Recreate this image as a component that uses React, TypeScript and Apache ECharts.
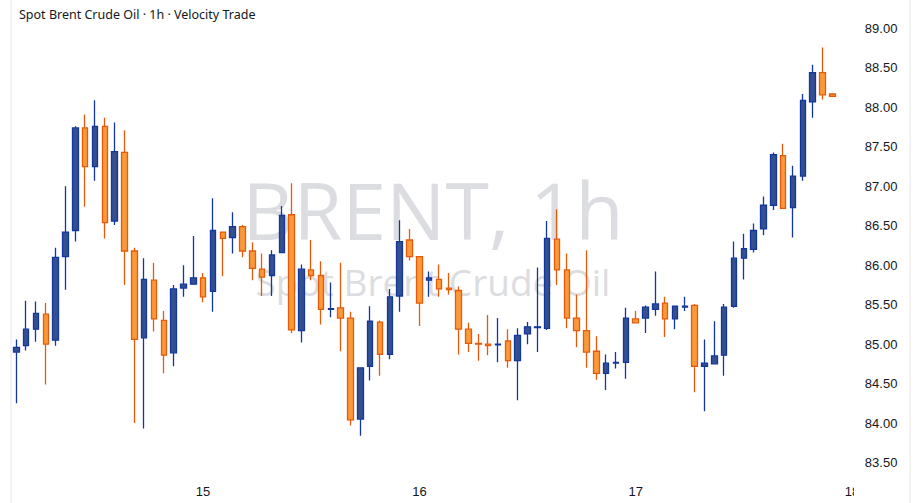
import React, { useEffect, useRef } from "react";
import * as echarts from "echarts";

// OHLC values, one per hourly candle (22 candles per trading day)
const opens = [
  84.9, 84.98, 85.19, 85.38, 85.05, 86.11, 86.44, 87.74, 87.25, 87.76,
  86.56, 87.43, 86.18, 85.08, 85.81, 85.3, 84.89, 85.71, 85.76, 85.84,
  85.67, 86.42, 86.35, 86.49, 86.18, 85.95, 85.87, 86.16, 86.64, 85.17,
  85.94, 85.87, 85.44, 85.46, 85.33, 84.05, 84.72, 85.28, 84.87, 85.61,
  86.32, 86.11, 85.81, 85.82, 85.71, 85.68, 85.19, 85.01, 85.0, 84.99,
  85.04, 84.79, 85.13, 85.21, 85.2, 86.33, 85.94, 85.33, 85.17, 84.91,
  84.63, 84.76, 84.77, 85.32, 85.33, 85.44, 85.52, 85.32, 85.47, 85.49,
  84.72, 84.75, 84.86, 85.48, 86.09, 86.2, 86.46, 86.76, 87.39, 86.73,
  87.13, 88.07, 88.44, 88.17,
];
const highs = [
  85.06, 85.55, 85.54, 85.52, 86.22, 87.0, 87.76, 87.91, 88.09, 87.87,
  87.81, 87.71, 86.22, 86.09, 86.03, 85.42, 85.75, 86.0, 86.37, 85.9,
  86.85, 86.42, 86.67, 86.51, 86.29, 86.15, 86.19, 86.75, 87.04, 86.01,
  86.32, 86.05, 85.78, 86.03, 85.41, 84.7, 85.48, 85.3, 85.7, 86.57,
  86.46, 86.11, 85.92, 86.01, 85.9, 85.73, 85.27, 85.13, 85.37, 85.33,
  85.19, 85.2, 85.28, 85.97, 86.56, 86.71, 86.15, 85.63, 86.19, 85.1,
  84.87, 84.9, 85.46, 85.42, 85.49, 85.92, 85.6, 85.49, 85.6, 85.51,
  85.06, 85.29, 85.51, 86.3, 86.4, 86.53, 86.87, 87.43, 87.54, 87.26,
  88.17, 88.54, 88.76, 88.17,
];
const lows = [
  84.25, 84.92, 85.03, 84.49, 84.98, 85.69, 86.3, 86.74, 87.07, 86.34,
  86.51, 85.75, 84.0, 83.93, 85.16, 84.63, 84.72, 85.6, 85.76, 85.53,
  85.41, 85.86, 86.15, 86.1, 85.81, 85.61, 85.61, 86.16, 85.14, 85.02,
  85.81, 85.25, 85.34, 84.91, 83.97, 83.84, 84.54, 84.6, 84.81, 85.41,
  86.06, 85.23, 85.6, 85.6, 85.63, 84.87, 84.9, 84.79, 84.86, 84.77,
  84.7, 84.29, 85.0, 84.9, 85.18, 85.75, 85.2, 84.96, 84.7, 84.55,
  84.42, 84.69, 84.56, 85.27, 85.14, 85.36, 85.09, 85.19, 85.42, 84.39,
  84.15, 84.75, 84.6, 85.46, 85.82, 86.16, 86.38, 86.7, 86.72, 86.35,
  87.07, 87.87, 88.1, 88.14,
];
const closes = [
  84.96, 85.19, 85.39, 85.0, 86.1, 86.42, 87.74, 87.25, 87.76, 86.54,
  87.44, 86.18, 85.06, 85.82, 85.32, 84.86, 85.7, 85.76, 85.84, 85.6,
  86.44, 86.34, 86.49, 86.18, 85.96, 85.85, 86.13, 86.63, 85.18, 85.95,
  85.87, 85.44, 85.45, 85.33, 84.04, 84.7, 85.29, 84.87, 85.6, 86.3,
  86.11, 85.52, 85.84, 85.7, 85.69, 85.19, 85.01, 85.0, 84.98, 85.0,
  84.79, 85.11, 85.22, 85.22, 86.34, 85.94, 85.33, 85.17, 84.9, 84.63,
  84.76, 84.77, 85.33, 85.27, 85.47, 85.51, 85.32, 85.48, 85.48, 84.72,
  84.76, 84.85, 85.47, 86.09, 86.21, 86.44, 86.76, 87.4, 86.72, 87.13,
  88.09, 88.44, 88.16, 88.14,
];

// Day tick labels and where they fall (candle index of each new day)
const dayLabels = ["15", "16", "17", "18"];
const dayStartIndex = [19, 41, 63, 85];
const totalSlots = 86;

const yMin = 83.5;
const yMax = 89;
const yStep = 0.5;

const titleText = "Spot Brent Crude Oil · 1h · Velocity Trade";
const watermarkMain = "BRENT, 1h";
const watermarkSub = "Spot Brent Crude Oil";

export default function App() {
  const ref = useRef<HTMLDivElement>(null);

  useEffect(() => {
    if (!ref.current) return;
    const chart = echarts.init(ref.current, undefined, { renderer: "svg" });

    const categories: string[] = [];
    for (let i = 0; i < totalSlots; i++) {
      const k = dayStartIndex.indexOf(i);
      categories.push(k >= 0 ? dayLabels[k] : "");
    }
    const data = opens.map((o, i) => [o, closes[i], lows[i], highs[i]]);

    const slot = 9.831;
    const gridLeft = 11.4;

    chart.setOption({
      animation: false,
      backgroundColor: "#ffffff",
      grid: {
        left: gridLeft,
        top: 28.5,
        width: slot * totalSlots,
        height: 434,
        containLabel: false,
      },
      xAxis: {
        type: "category",
        data: categories,
        boundaryGap: true,
        axisLine: { show: false },
        axisTick: { show: false },
        splitLine: { show: false },
        axisLabel: {
          interval: (idx: number) => categories[idx] !== "",
          margin: 22,
          fontFamily: "Liberation Sans",
          fontSize: 13,
          color: "#131722",
        },
      },
      yAxis: {
        type: "value",
        position: "right",
        min: yMin,
        max: yMax,
        interval: yStep,
        scale: true,
        axisLine: { show: false },
        axisTick: { show: false },
        splitLine: { show: false },
        axisLabel: {
          margin: 8,
          fontFamily: "Liberation Sans",
          fontSize: 13,
          color: "#131722",
          formatter: (v: number) => v.toFixed(2),
        },
      },
      graphic: [
        {
          type: "text",
          x: 433,
          y: 209,
          z: 0,
          style: {
            text: watermarkMain,
            font: '79px "Open Sans"',
            fill: "#dcdde0",
            textAlign: "center",
            textVerticalAlign: "middle",
          },
        },
        {
          type: "text",
          x: 433,
          y: 281,
          z: 0,
          style: {
            text: watermarkSub,
            font: '37px "Open Sans"',
            fill: "#dcdde0",
            textAlign: "center",
            textVerticalAlign: "middle",
          },
        },
        {
          type: "text",
          x: 19,
          y: 14,
          z: 10,
          style: {
            text: titleText,
            font: '12.5px "Noto Sans"',
            fill: "#131722",
            textAlign: "left",
            textVerticalAlign: "middle",
          },
        },
        {
          type: "rect",
          z: 100,
          shape: { x: 854, y: 472, width: 55, height: 31 },
          style: { fill: "#ffffff" },
        },
        {
          type: "rect",
          z: 100,
          shape: { x: 10.3, y: 0, width: 1.5, height: 503 },
          style: { fill: "#efefef" },
        },
        {
          type: "rect",
          z: 100,
          shape: { x: 909.3, y: 0, width: 1.5, height: 503 },
          style: { fill: "#efefef" },
        },
      ],
      series: [
        {
          type: "candlestick",
          data,
          barWidth: 6,
          z: 5,
          itemStyle: {
            color: "#35508f",
            color0: "#f89a3a",
            borderColor: "#1238a0",
            borderColor0: "#e85a0a",
            borderWidth: 1.3,
          },
        },
      ],
    });

    return () => chart.dispose();
  }, []);

  return (
    <div
      ref={ref}
      style={{
        position: "fixed",
        left: 0,
        top: 0,
        width: 921,
        height: 503,
        background: "#fff",
      }}
    />
  );
}
